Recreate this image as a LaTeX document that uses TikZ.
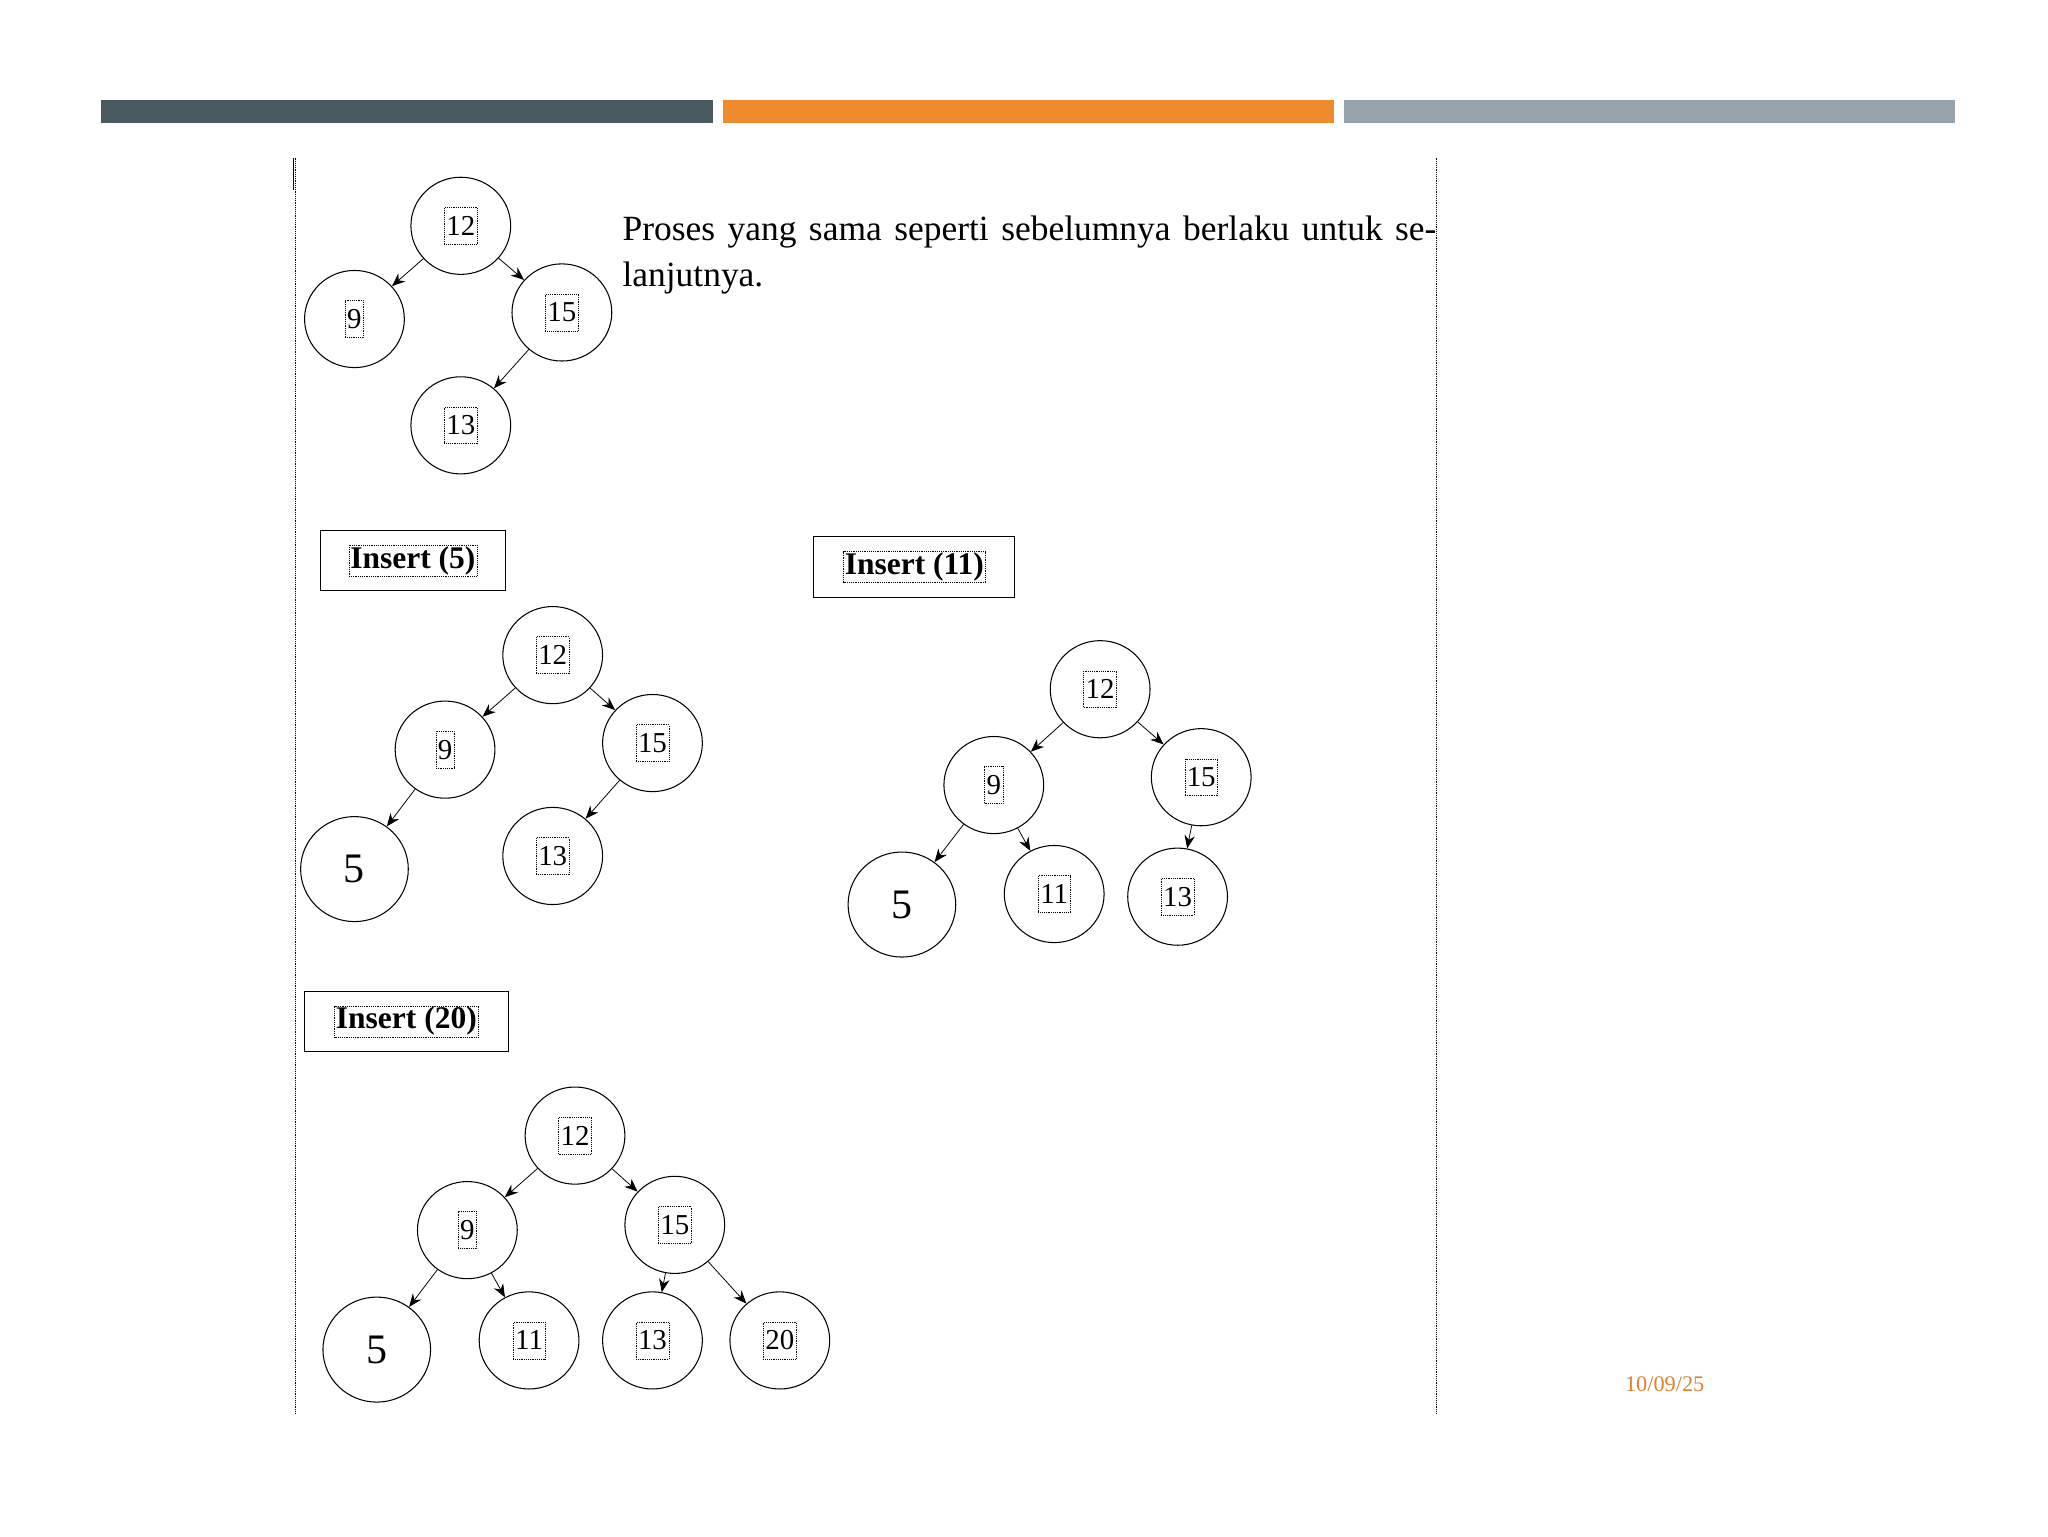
\documentclass[tikz,border=0pt]{standalone}
\usepackage{fontspec}
\setmainfont{Liberation Serif}
\usetikzlibrary{arrows.meta,shapes.geometric}
\begin{document}
\begin{tikzpicture}[x=1pt,y=-1pt,
  nd/.style={draw,thick,ellipse,minimum width=76pt,minimum height=74pt,inner sep=0pt},
  nb/.style={draw,densely dotted,font=\fontsize{22}{22}\selectfont,inner sep=1.5pt,minimum height=28pt},
  big/.style={draw,thick,ellipse,minimum width=82pt,minimum height=80pt,font=\fontsize{32}{32}\selectfont},
  ed/.style={-{Stealth[length=10pt,width=8pt]},semithick},
  ins/.style={draw,thick,inner sep=5pt,minimum height=46pt},
  inl/.style={draw,densely dotted,inner sep=1pt,font=\bfseries\fontsize{24}{24}\selectfont}]
\useasboundingbox (0,0) rectangle (1560,1170);
\fill[white] (0,0) rectangle (1560,1170);
\fill[fill={rgb,255:red,74;green,88;blue,95}] (77,76) rectangle (543,94);
\fill[fill={rgb,255:red,240;green,138;blue,44}] (551,76) rectangle (1016,94);
\fill[fill={rgb,255:red,151;green,162;blue,170}] (1024,76) rectangle (1489,94);
\draw[densely dotted] (225,120) -- (225,1077);
\draw[densely dotted] (1094,120) -- (1094,1077);
\draw[thick] (223.5,120) -- (223.5,145);
\node[font=\fontsize{17}{17}\selectfont,text={rgb,255:red,220;green,130;blue,50}] (date) at (1268,1054) {10/09/25};
% text
\node[anchor=north west,inner sep=0pt,text width=620pt,align=justify,font=\fontsize{27}{35}\selectfont] (txt) at (474,164)
 {Proses yang sama seperti sebelumnya berlaku untuk selanjutnya.};
\newcommand{\tn}[3]{\node[nd] (#1) at #2 {}; \node[nb] (#1t) at (#1) {#3};}
% tree 1
\tn{a1}{(351,172)}{12}\tn{a2}{(270,243)}{9}\tn{a3}{(428,238)}{15}\tn{a4}{(351,324)}{13}
\draw[ed] (a1) -- (a2); \draw[ed] (a1) -- (a3); \draw[ed] (a3) -- (a4);
% insert labels
\node[ins,minimum width=141pt] (i5) at (314.5,427) {}; \node[inl] (i5t) at (i5) {Insert (5)};
\node[ins,minimum width=153pt] (i11) at (696.5,432) {}; \node[inl] (i11t) at (i11) {Insert (11)};
\node[ins,minimum width=155pt] (i20) at (309.5,778) {}; \node[inl] (i20t) at (i20) {Insert (20)};
% tree 2
\tn{b1}{(421,499)}{12}\tn{b2}{(339,571)}{9}\tn{b3}{(497,566)}{15}\tn{b5}{(421,652)}{13}
\node[big] (b4) at (270,662) {5};
\draw[ed] (b1) -- (b2); \draw[ed] (b1) -- (b3); \draw[ed] (b2) -- (b4); \draw[ed] (b3) -- (b5);
% tree 3
\tn{c1}{(838,525)}{12}\tn{c2}{(757,598)}{9}\tn{c3}{(915,592)}{15}\tn{c5}{(803,681)}{11}\tn{c6}{(897,683)}{13}
\node[big] (c4) at (687,689) {5};
\draw[ed] (c1) -- (c2); \draw[ed] (c1) -- (c3); \draw[ed] (c2) -- (c4); \draw[ed] (c2) -- (c5); \draw[ed] (c3) -- (c6);
% tree 4
\tn{d1}{(438,865)}{12}\tn{d2}{(356,937)}{9}\tn{d3}{(514,933)}{15}\tn{d5}{(403,1021)}{11}\tn{d6}{(497,1021)}{13}\tn{d7}{(594,1021)}{20}
\node[big] (d4) at (287,1028) {5};
\draw[ed] (d1) -- (d2); \draw[ed] (d1) -- (d3); \draw[ed] (d2) -- (d4); \draw[ed] (d2) -- (d5); \draw[ed] (d3) -- (d6); \draw[ed] (d3) -- (d7);
\end{tikzpicture}
\end{document}
